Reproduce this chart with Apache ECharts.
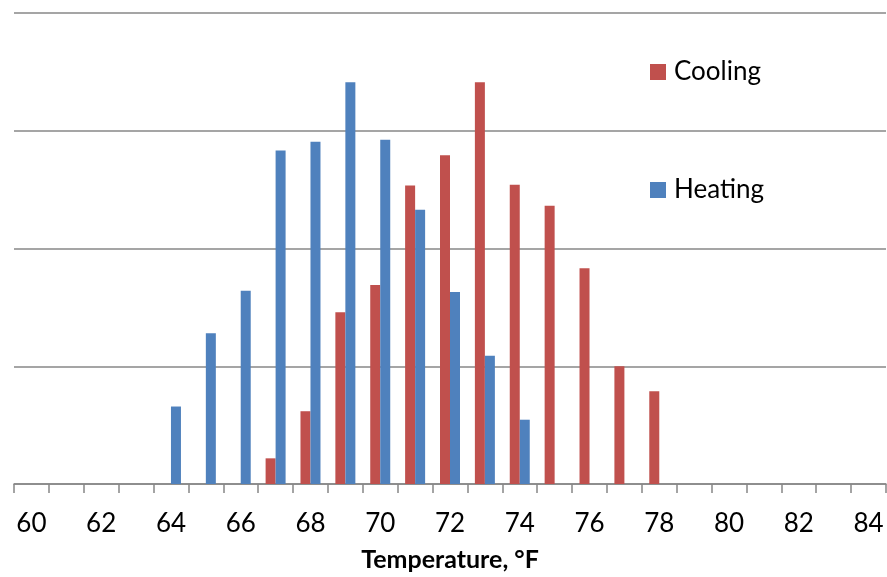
<!DOCTYPE html>
<html><head><meta charset="utf-8">
<script src="https://cdn.jsdelivr.net/npm/echarts@6/dist/echarts.min.js"></script>
<style>html,body{margin:0;padding:0;background:#fff}#c{width:887px;height:577px}</style>
</head><body><div id="c"></div>
<script>
// Temperature categories (°F)
const categories = ['60','61','62','63','64','65','66','67','68','69','70','71','72','73','74','75','76','77','78','79','80','81','82','83','84'];
// Cooling series (per category, null = no bar)
const coolingValues = [null,null,null,null,null,null,null,1.09,3.09,7.29,8.45,12.67,13.96,17.06,12.71,11.82,9.16,5.0,3.94,null,null,null,null,null,null];
// Heating series
const heatingValues = [null,null,null,null,3.29,6.40,8.21,14.16,14.53,17.06,14.62,11.65,8.15,5.45,2.73,null,null,null,null,null,null,null,null,null,null];
// Value axis gridline positions (no labels shown)
const yTicks = [0,5,10,15,20];
const seriesNames = ['Cooling','Heating'];

const FONT = 'Lato, "Open Sans", sans-serif';
const legendText = {fontFamily: FONT, fontSize: 26, color: '#000', lineHeight: 26, padding: [0,0,0,3]};
const chart = echarts.init(document.getElementById('c'));
chart.setOption({
  animation: false,
  backgroundColor: '#ffffff',
  color: ['#C0504D','#4F81BD'],
  grid: {left: 14, right: 1, top: 13, bottom: 92, containLabel: false},
  legend: [
    {data: [seriesNames[0]], left: 650, top: 59, padding: 0, orient: 'vertical', itemWidth: 16, itemHeight: 16,
     icon: 'rect', textStyle: legendText},
    {data: [seriesNames[1]], left: 650, top: 177, padding: 0, orient: 'vertical', itemWidth: 16, itemHeight: 16,
     icon: 'rect', textStyle: legendText}
  ],
  xAxis: {
    type: 'category',
    data: categories,
    boundaryGap: true,
    name: 'Temperature, °F',
    nameLocation: 'middle',
    nameGap: 63,
    nameTextStyle: {fontFamily: FONT, fontSize: 25, fontWeight: 'bold', color: '#000'},
    axisLine: {lineStyle: {color: '#878787', width: 1.5}},
    axisTick: {show: true, interval: 0, length: 9, lineStyle: {color: '#878787', width: 1.5}},
    axisLabel: {interval: 1, margin: 27, fontFamily: FONT, fontSize: 26, color: '#000'},
    splitLine: {show: false}
  },
  yAxis: {
    type: 'value',
    min: yTicks[0],
    max: yTicks[yTicks.length-1],
    interval: yTicks[1]-yTicks[0],
    axisLine: {show: false},
    axisTick: {show: false},
    axisLabel: {show: false},
    splitLine: {show: true, lineStyle: {color: '#878787', width: 1.5}}
  },
  series: [
    {name: seriesNames[0], type: 'bar', data: coolingValues, barWidth: 10, barGap: '0%'},
    {name: seriesNames[1], type: 'bar', data: heatingValues, barWidth: 10, barGap: '0%'}
  ]
});
</script></body></html>
